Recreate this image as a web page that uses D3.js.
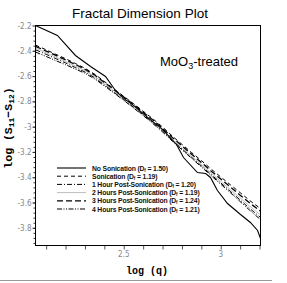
<!DOCTYPE html>
<html><head><meta charset="utf-8">
<script src="https://cdn.jsdelivr.net/npm/d3@7"></script>
<style>body{margin:0;background:#fff}svg{display:block}</style>
</head><body>
<svg id="c" width="287" height="283"></svg>
<script>
// ---- data ----
const logQ = [2.045, 2.1, 2.15, 2.2, 2.25, 2.3, 2.35, 2.4, 2.45, 2.5, 2.55, 2.6, 2.65, 2.7, 2.75, 2.8, 2.85, 2.9, 2.95, 3.0, 3.05, 3.1, 3.15, 3.205];
const noSonQ = [2.045, 2.158, 2.251, 2.329, 2.406, 2.457, 2.494, 2.55, 2.638, 2.70, 2.772, 2.808, 2.880, 2.922, 2.947, 2.983, 3.035, 3.102, 3.153, 3.190, 3.205];
const noSonication = [-2.200, -2.279, -2.437, -2.524, -2.603, -2.714, -2.769, -2.832, -2.946, -3.022, -3.141, -3.244, -3.363, -3.371, -3.402, -3.505, -3.608, -3.695, -3.758, -3.821, -3.885];
const sonication = [-2.355, -2.392, -2.428, -2.462, -2.500, -2.538, -2.585, -2.642, -2.703, -2.760, -2.818, -2.878, -2.938, -3.003, -3.074, -3.140, -3.205, -3.268, -3.335, -3.398, -3.460, -3.522, -3.585, -3.648];
const hour1 = [-2.392, -2.428, -2.462, -2.496, -2.532, -2.568, -2.613, -2.670, -2.728, -2.786, -2.846, -2.906, -2.968, -3.035, -3.108, -3.176, -3.243, -3.310, -3.378, -3.445, -3.512, -3.580, -3.648, -3.718];
const hour2 = [-2.378, -2.416, -2.450, -2.485, -2.520, -2.557, -2.603, -2.660, -2.718, -2.776, -2.836, -2.897, -2.960, -3.027, -3.099, -3.167, -3.234, -3.300, -3.366, -3.432, -3.498, -3.563, -3.630, -3.698];
const hour3 = [-2.365, -2.402, -2.437, -2.472, -2.508, -2.546, -2.592, -2.650, -2.708, -2.765, -2.825, -2.886, -2.948, -3.014, -3.085, -3.152, -3.218, -3.283, -3.350, -3.414, -3.478, -3.542, -3.605, -3.668];
const hour4 = [-2.410, -2.445, -2.478, -2.510, -2.544, -2.578, -2.622, -2.678, -2.735, -2.792, -2.852, -2.912, -2.975, -3.042, -3.114, -3.183, -3.251, -3.318, -3.387, -3.455, -3.523, -3.592, -3.662, -3.735];
const seriesNames = ["No Sonication", "Sonication", "1 Hour Post-Sonication", "2 Hours Post-Sonication", "3 Hours Post-Sonication", "4 Hours Post-Sonication"];
const dfValues = ["1.50", "1.19", "1.20", "1.19", "1.24", "1.21"];
const yTickValues = [-2.2, -2.4, -2.6, -2.8, -3.0, -3.2, -3.4, -3.6, -3.8];
const yTickLabels = ["-2.2", "-2.4", "-2.6", "-2.8", "-3", "-3.2", "-3.4", "-3.6", "-3.8"];
const xTickValues = [2.1, 2.2, 2.3, 2.4, 2.5, 2.6, 2.7, 2.8, 2.9, 3.0, 3.1, 3.2];
const xLabelValues = [2.5, 3.0];
const xLabelText = ["2.5", "3"];

// ---- chart ----
const svg = d3.select("#c");
const L = 35.5, R = 260.5, T = 25.5, B = 245.5;
const x = d3.scaleLinear().domain([2.045, 3.205]).range([L, R]);
const y = d3.scaleLinear().domain([-3.94, -2.2]).range([B, T]);
const tickFont = "'Liberation Sans Narrow','DejaVu Sans Condensed',Arial,sans-serif";
const legFont = "'Liberation Sans',Arial,sans-serif";

const styles = [
  {stroke: "#000", width: 1.1, dash: null},
  {stroke: "#000", width: 1, dash: "4,3"},
  {stroke: "#000", width: 1, dash: "5,2,1,2"},
  {stroke: "#bdbdbd", width: 1, dash: null},
  {stroke: "#000", width: 1.3, dash: "6,3"},
  {stroke: "#000", width: 1, dash: "5,1.5,1,1.5,1,1.5"}
];

const series = [
  noSonQ.map((q, i) => [q, noSonication[i]]),
  logQ.map((q, i) => [q, sonication[i]]),
  logQ.map((q, i) => [q, hour1[i]]),
  logQ.map((q, i) => [q, hour2[i]]),
  logQ.map((q, i) => [q, hour3[i]]),
  logQ.map((q, i) => [q, hour4[i]])
];

// title
svg.append("text").attr("x", 140).attr("y", 17.5).attr("text-anchor", "middle")
  .style("font-family", "Arial,'Liberation Sans',sans-serif").style("font-size", "13.5px")
  .text("Fractal Dimension Plot");

// clip
svg.append("clipPath").attr("id", "clip").append("rect")
  .attr("x", L).attr("y", T).attr("width", R - L).attr("height", B - T);

const line = d3.line().x(d => x(d[0])).y(d => y(d[1]));
const g = svg.append("g").attr("clip-path", "url(#clip)");
[3, 1, 4, 2, 5, 0].forEach(i => {
  g.append("path").datum(series[i]).attr("d", line).attr("fill", "none")
    .attr("stroke", styles[i].stroke).attr("stroke-width", styles[i].width)
    .attr("stroke-dasharray", styles[i].dash);
});

// axes
const yAxisMinor = d3.axisLeft(y).tickValues(d3.range(-2.24, -3.93, -0.04)).tickSize(2).tickFormat("");
svg.append("g").attr("transform", `translate(${L},0)`).call(yAxisMinor)
  .call(a => a.select(".domain").remove())
  .selectAll("line").attr("stroke", "#333");
const yAxis = d3.axisLeft(y).tickValues(yTickValues).tickFormat((d, i) => yTickLabels[i]).tickSize(3).tickPadding(1);
svg.append("g").attr("transform", `translate(${L},0)`).call(yAxis)
  .call(a => a.select(".domain").remove())
  .call(a => a.selectAll("line").attr("stroke", "#333"))
  .call(a => a.selectAll("text").attr("fill", "#888").style("font-family", tickFont).style("font-size", "8px"));

const xAxis = d3.axisBottom(x).tickValues(xTickValues).tickFormat("").tickSize(4);
svg.append("g").attr("transform", `translate(0,${B})`).call(xAxis)
  .call(a => a.select(".domain").remove())
  .selectAll("line").attr("stroke", "#555");
svg.append("g").selectAll("text").data(xLabelValues).join("text")
  .attr("x", d => x(d)).attr("y", 257).attr("text-anchor", "middle")
  .attr("fill", "#888").style("font-family", tickFont).style("font-size", "8px")
  .text((d, i) => xLabelText[i]);

// frame
svg.append("rect").attr("x", L).attr("y", T).attr("width", R - L).attr("height", B - T)
  .attr("fill", "none").attr("stroke", "#000").attr("stroke-width", 1);

// axis titles
const mono = "'Liberation Mono','Courier New',monospace";
svg.append("text").attr("x", 147).attr("y", 273.5).attr("text-anchor", "middle")
  .style("font-family", mono).style("font-weight", "bold").style("font-size", "10px")
  .text("log (q)");
const yl = svg.append("text").attr("transform", "translate(12,128) rotate(-90)").attr("text-anchor", "middle")
  .style("font-family", mono).style("font-weight", "bold").style("font-size", "11.5px");
yl.append("tspan").text("log (S");
yl.append("tspan").attr("baseline-shift", "-25%").style("font-size", "8px").text("11");
yl.append("tspan").text("\u2212S");
yl.append("tspan").attr("baseline-shift", "-25%").style("font-size", "8px").text("12");
yl.append("tspan").text(")");

// annotation
const ann = svg.append("text").attr("x", 160).attr("y", 66)
  .style("font-family", "Arial,'Liberation Sans',sans-serif").style("font-size", "13px");
ann.append("tspan").text("MoO");
ann.append("tspan").attr("baseline-shift", "-30%").style("font-size", "9px").text("3");
ann.append("tspan").text("-treated");

// legend
const legY = [168, 176.2, 184.4, 192.6, 200.8, 209];
const leg = svg.append("g");
seriesNames.forEach((name, i) => {
  leg.append("line").attr("x1", 57).attr("x2", 86).attr("y1", legY[i]).attr("y2", legY[i])
    .attr("stroke", styles[i].stroke).attr("stroke-width", styles[i].width)
    .attr("stroke-dasharray", styles[i].dash);
  const t = leg.append("text").attr("x", 92).attr("y", legY[i] + 2.6)
    .style("font-family", legFont).style("font-weight", "bold").style("font-size", "6.8px")
    .style("letter-spacing", "-0.15px").attr("fill", "#111");
  t.append("tspan").text(name + " (D");
  t.append("tspan").attr("baseline-shift", "-25%").style("font-size", "4.5px").text("f");
  t.append("tspan").text(" = " + dfValues[i] + ")");
});

// bottom separator
svg.append("line").attr("x1", 0).attr("x2", 272).attr("y1", 280.5).attr("y2", 280.5)
  .attr("stroke", "#999").attr("stroke-width", 1);
</script>
</body></html>
